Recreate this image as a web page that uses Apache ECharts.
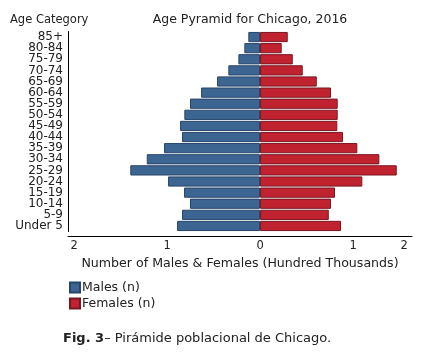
<!DOCTYPE html>
<html>
<head>
<meta charset="utf-8">
<script src="https://cdn.jsdelivr.net/npm/echarts@6/dist/echarts.min.js"></script>
<style>
html,body{margin:0;padding:0;background:#fff;}
#chart{width:421px;height:354px;}
</style>
</head>
<body>
<div id="chart"></div>
<script>
// Age categories (top to bottom)
var categories = ['85+','80-84','75-79','70-74','65-69','60-64','55-59','50-54','45-49','40-44','35-39','30-34','25-29','20-24','15-19','10-14','5-9','Under 5'];
// Values in hundred thousands
var males   = [0.126,0.169,0.233,0.341,0.462,0.634,0.753,0.814,0.860,0.839,1.032,1.218,1.395,0.989,0.817,0.753,0.839,0.892];
var females = [0.298,0.233,0.352,0.459,0.610,0.763,0.835,0.835,0.831,0.892,1.046,1.283,1.470,1.100,0.806,0.763,0.739,0.871];
// x tick labels as shown in the reference
var xTickValues = [-2,-1,0,1,1.55];

var font = 'DejaVu Sans, Verdana, sans-serif';
var chart = echarts.init(document.getElementById('chart'), null, {renderer:'canvas'});
chart.setOption({
  animation:false,
  backgroundColor:'#fff',
  textStyle:{fontFamily:font},
  title:[
    {text:'Age Pyramid for Chicago, 2016', left:245, top:8, textAlign:'center',
     textStyle:{fontFamily:font,fontSize:12.5,fontWeight:'normal',color:'#222'}},
    {text:'Age Category', left:5, top:9,
     textStyle:{fontFamily:font,fontSize:11.5,fontWeight:'normal',color:'#222'}},
    {text:'{b|Fig. 3}– Pirámide poblacional de Chicago.', left:58, top:327,
     textStyle:{fontFamily:font,fontSize:13,fontWeight:'normal',color:'#222',
       rich:{b:{fontFamily:font,fontSize:13,fontWeight:'bold',color:'#222'}}}}
  ],
  legend:{
    orient:'vertical', left:64, top:276, itemGap:3, itemWidth:10, itemHeight:10,
    icon:'rect', textStyle:{fontFamily:font,fontSize:12.5,color:'#222',padding:[0,0,0,-3]},
    data:['Males (n)','Females (n)']
  },
  grid:{left:68, right:9, top:31.5, bottom:122.5, containLabel:false},
  xAxis:{
    type:'value', min:-2.065, max:1.634,
    offset:5,
    name:'Number of Males & Females (Hundred Thousands)',
    nameLocation:'middle', nameGap:20,
    nameTextStyle:{fontFamily:font,fontSize:12.6,color:'#222'},
    axisLine:{show:true,lineStyle:{color:'#000',width:1}},
    axisTick:{show:false},
    splitLine:{show:false},
    axisLabel:{customValues:xTickValues, margin:4, fontFamily:font, fontSize:11.5, color:'#222',
      formatter:function(v){return String(Math.round(Math.abs(v)));}}
  },
  yAxis:{
    type:'category', data:categories, inverse:true,
    axisLine:{show:true,onZero:false,lineStyle:{color:'#000',width:1}},
    axisTick:{show:false},
    axisLabel:{interval:0, margin:5, fontFamily:font, fontSize:12, color:'#222', lineHeight:11}
  },
  series:[
    {name:'Males (n)', type:'bar', barGap:'-100%', barCategoryGap:'8%',
     data:males.map(function(v){return -v;}),
     itemStyle:{color:'#3d6591', borderColor:'#26456b', borderWidth:1}},
    {name:'Females (n)', type:'bar', barGap:'-100%', barCategoryGap:'8%',
     data:females,
     itemStyle:{color:'#c1222f', borderColor:'#7a1620', borderWidth:1}}
  ]
});
</script>
</body>
</html>
